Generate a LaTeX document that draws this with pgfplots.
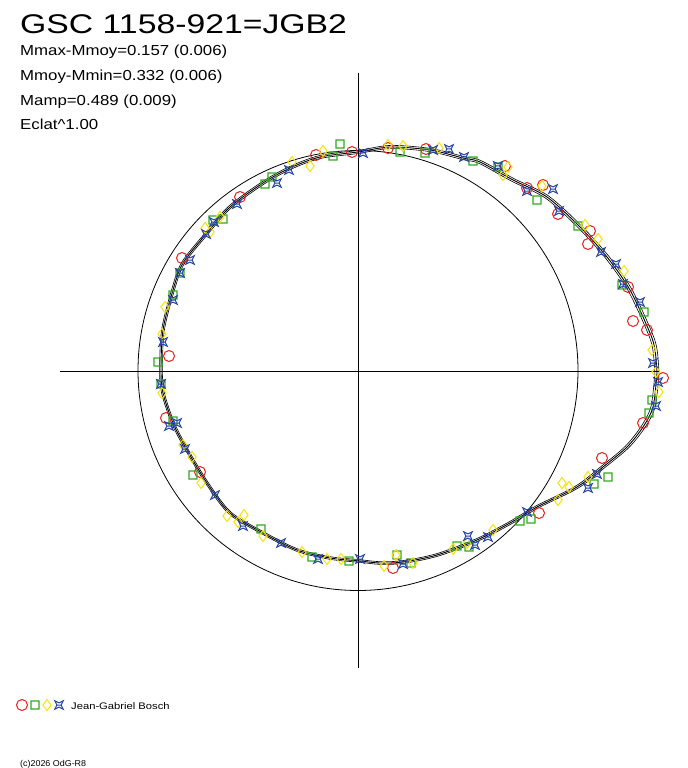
\documentclass[border=0pt]{standalone}
\usepackage{fontspec}
\setmainfont{Liberation Sans}
\usepackage{pgfplots}
\usepackage{pgfplotstable}
\pgfplotsset{compat=1.18}

\definecolor{obsR}{RGB}{232,30,30}
\definecolor{obsG}{RGB}{50,170,30}
\definecolor{obsY}{RGB}{250,225,0}
\definecolor{obsB}{RGB}{40,70,165}

% concave four-corner star used for the fourth observer series
\pgfdeclareplotmark{astar}{%
  \pgfpathmoveto{\pgfqpoint{\pgfplotmarksize}{\pgfplotmarksize}}%
  \pgfpathlineto{\pgfqpoint{0pt}{0.5\pgfplotmarksize}}%
  \pgfpathlineto{\pgfqpoint{-\pgfplotmarksize}{\pgfplotmarksize}}%
  \pgfpathlineto{\pgfqpoint{-0.5\pgfplotmarksize}{0pt}}%
  \pgfpathlineto{\pgfqpoint{-\pgfplotmarksize}{-\pgfplotmarksize}}%
  \pgfpathlineto{\pgfqpoint{0pt}{-0.5\pgfplotmarksize}}%
  \pgfpathlineto{\pgfqpoint{\pgfplotmarksize}{-\pgfplotmarksize}}%
  \pgfpathlineto{\pgfqpoint{0.5\pgfplotmarksize}{0pt}}%
  \pgfpathclose
  \pgfpathmoveto{\pgfqpoint{-0.5\pgfplotmarksize}{0pt}}%
  \pgfpathlineto{\pgfqpoint{0.5\pgfplotmarksize}{0pt}}%
  \pgfusepathqstroke}

% fitted light curve, pixel coordinates (y downwards)
\pgfplotstableread{
x y
657 373
655 350
650 333
630 290
607 257
580 227
547 197
513 180
480 162
463 158
430 150
390 147
358 152
320 157
290 168
263 183
230 207
207 233
183 263
173 290
163 330
161 370
163 393
173 423
187 450
207 483
230 513
263 533
297 550
330 558
360 561
380 563
403 562
437 555
477 540
510 523
537 507
577 487
603 467
627 447
643 427
653 407
657 373
}\curve

\pgfplotstableread{
x y
240 197
182 258
169 356
316 155
352 152
166 418
200 472
393 568
539 513
602 458
643 423
663 378
628 287
633 321
647 330
505 166
527 188
543 185
558 214
590 231
588 244
388 148
426 149
}\obsred

\pgfplotstableread{
x y
340 144
333 156
272 177
265 184
223 219
213 220
180 273
173 295
158 362
161 384
173 421
193 475
261 529
312 557
349 561
397 555
411 563
457 546
469 547
520 521
531 519
594 484
608 477
649 413
652 400
622 285
644 312
498 167
537 200
578 226
400 152
425 153
473 161
}\obsgreen

\pgfplotstableread{
x y
323 151
310 166
292 162
220 217
210 232
205 228
165 307
162 334
162 393
183 445
192 457
201 483
227 516
244 515
238 522
263 536
302 552
327 559
341 559
384 566
396 555
413 563
453 549
467 543
493 530
558 500
562 483
569 487
588 477
652 350
656 372
659 392
624 271
508 167
503 175
542 186
585 225
598 239
388 145
403 146
439 148
}\obsyellow

\pgfplotstableread{
x y
363 153
289 170
277 183
237 204
214 222
206 234
190 260
180 273
173 300
163 342
161 384
169 426
177 423
185 449
215 495
243 526
281 543
318 559
360 559
403 564
468 536
475 545
488 537
527 512
588 488
597 474
653 363
658 382
656 406
616 264
640 302
498 166
527 191
553 189
559 211
601 252
623 284
433 150
449 149
464 157
}\obsblue

\begin{document}
\begin{tikzpicture}
\begin{axis}[
    width=688bp, height=768bp,
    scale only axis,
    xmin=0, xmax=688,
    ymin=0, ymax=768,
    y dir=reverse,
    hide axis,
    clip=false,
]
\path[fill=white] (axis cs:0,0) rectangle (axis cs:688,768);

% cross and reference circle
\draw[black, line width=0.9bp] (axis cs:358,73) -- (axis cs:358,668);
\draw[black, line width=0.9bp] (axis cs:60,371) -- (axis cs:660,371);
\draw[black, line width=0.8bp] (axis cs:358,370.5) circle [radius=220bp];

% fit with its band
\addplot[black, line width=0.6bp, smooth] table[x expr={358+(\thisrow{x}-358)*0.993}, y expr={371+(\thisrow{y}-371)*0.993}] {\curve};
\addplot[black, line width=0.9bp, smooth] table {\curve};
\addplot[black, line width=0.6bp, smooth] table[x expr={358+(\thisrow{x}-358)*1.007}, y expr={371+(\thisrow{y}-371)*1.007}] {\curve};

% observations
\addplot[only marks, mark=o, mark size=5.5bp, mark options={draw=obsR, line width=1bp}] table {\obsred};
\addplot[only marks, mark=square, mark size=4bp, mark options={draw=obsG, fill=none, line width=1.1bp, rotate=0.01}] table {\obsgreen};
\addplot[only marks, mark=diamond, mark size=5.5bp, mark options={draw=obsY, line width=1bp}] table {\obsyellow};
\addplot[only marks, mark=astar, mark size=4.3bp, mark options={draw=obsB, line width=1bp}] table {\obsblue};

% legend symbols
\addplot[only marks, mark=o, mark size=5.5bp, mark options={draw=obsR, line width=1bp}] coordinates {(22,705)};
\addplot[only marks, mark=square, mark size=4bp, mark options={draw=obsG, fill=none, line width=1.1bp, rotate=0.01}] coordinates {(35,705)};
\addplot[only marks, mark=diamond, mark size=5.5bp, mark options={draw=obsY, line width=1bp}] coordinates {(47,705)};
\addplot[only marks, mark=astar, mark size=4.3bp, mark options={draw=obsB, line width=1bp}] coordinates {(59,705)};

% texts
\node[anchor=base west, inner sep=0pt] at (axis cs:20,34) {\scalebox{1.25}[1]{\fontsize{27bp}{30bp}\selectfont GSC 1158-921=JGB2}};
\node[anchor=base west, inner sep=0pt] at (axis cs:20,56) {\scalebox{1.16}[1]{\fontsize{14.5bp}{16bp}\selectfont Mmax-Mmoy=0.157 (0.006)}};
\node[anchor=base west, inner sep=0pt] at (axis cs:20,81) {\scalebox{1.16}[1]{\fontsize{14.5bp}{16bp}\selectfont Mmoy-Mmin=0.332 (0.006)}};
\node[anchor=base west, inner sep=0pt] at (axis cs:20,105.5) {\scalebox{1.16}[1]{\fontsize{14.5bp}{16bp}\selectfont Mamp=0.489 (0.009)}};
\node[anchor=base west, inner sep=0pt] at (axis cs:20,130) {\scalebox{1.16}[1]{\fontsize{14.5bp}{16bp}\selectfont Eclat\^{}1.00}};
\node[anchor=base west, inner sep=0pt] at (axis cs:71,709) {\scalebox{1.18}[1]{\fontsize{9.5bp}{11bp}\selectfont Jean-Gabriel Bosch}};
\node[anchor=base west, inner sep=0pt] at (axis cs:20,766) {\scalebox{1.05}[1]{\fontsize{8.5bp}{9bp}\selectfont (c)2026 OdG-R8}};
\end{axis}
\end{tikzpicture}
\end{document}
